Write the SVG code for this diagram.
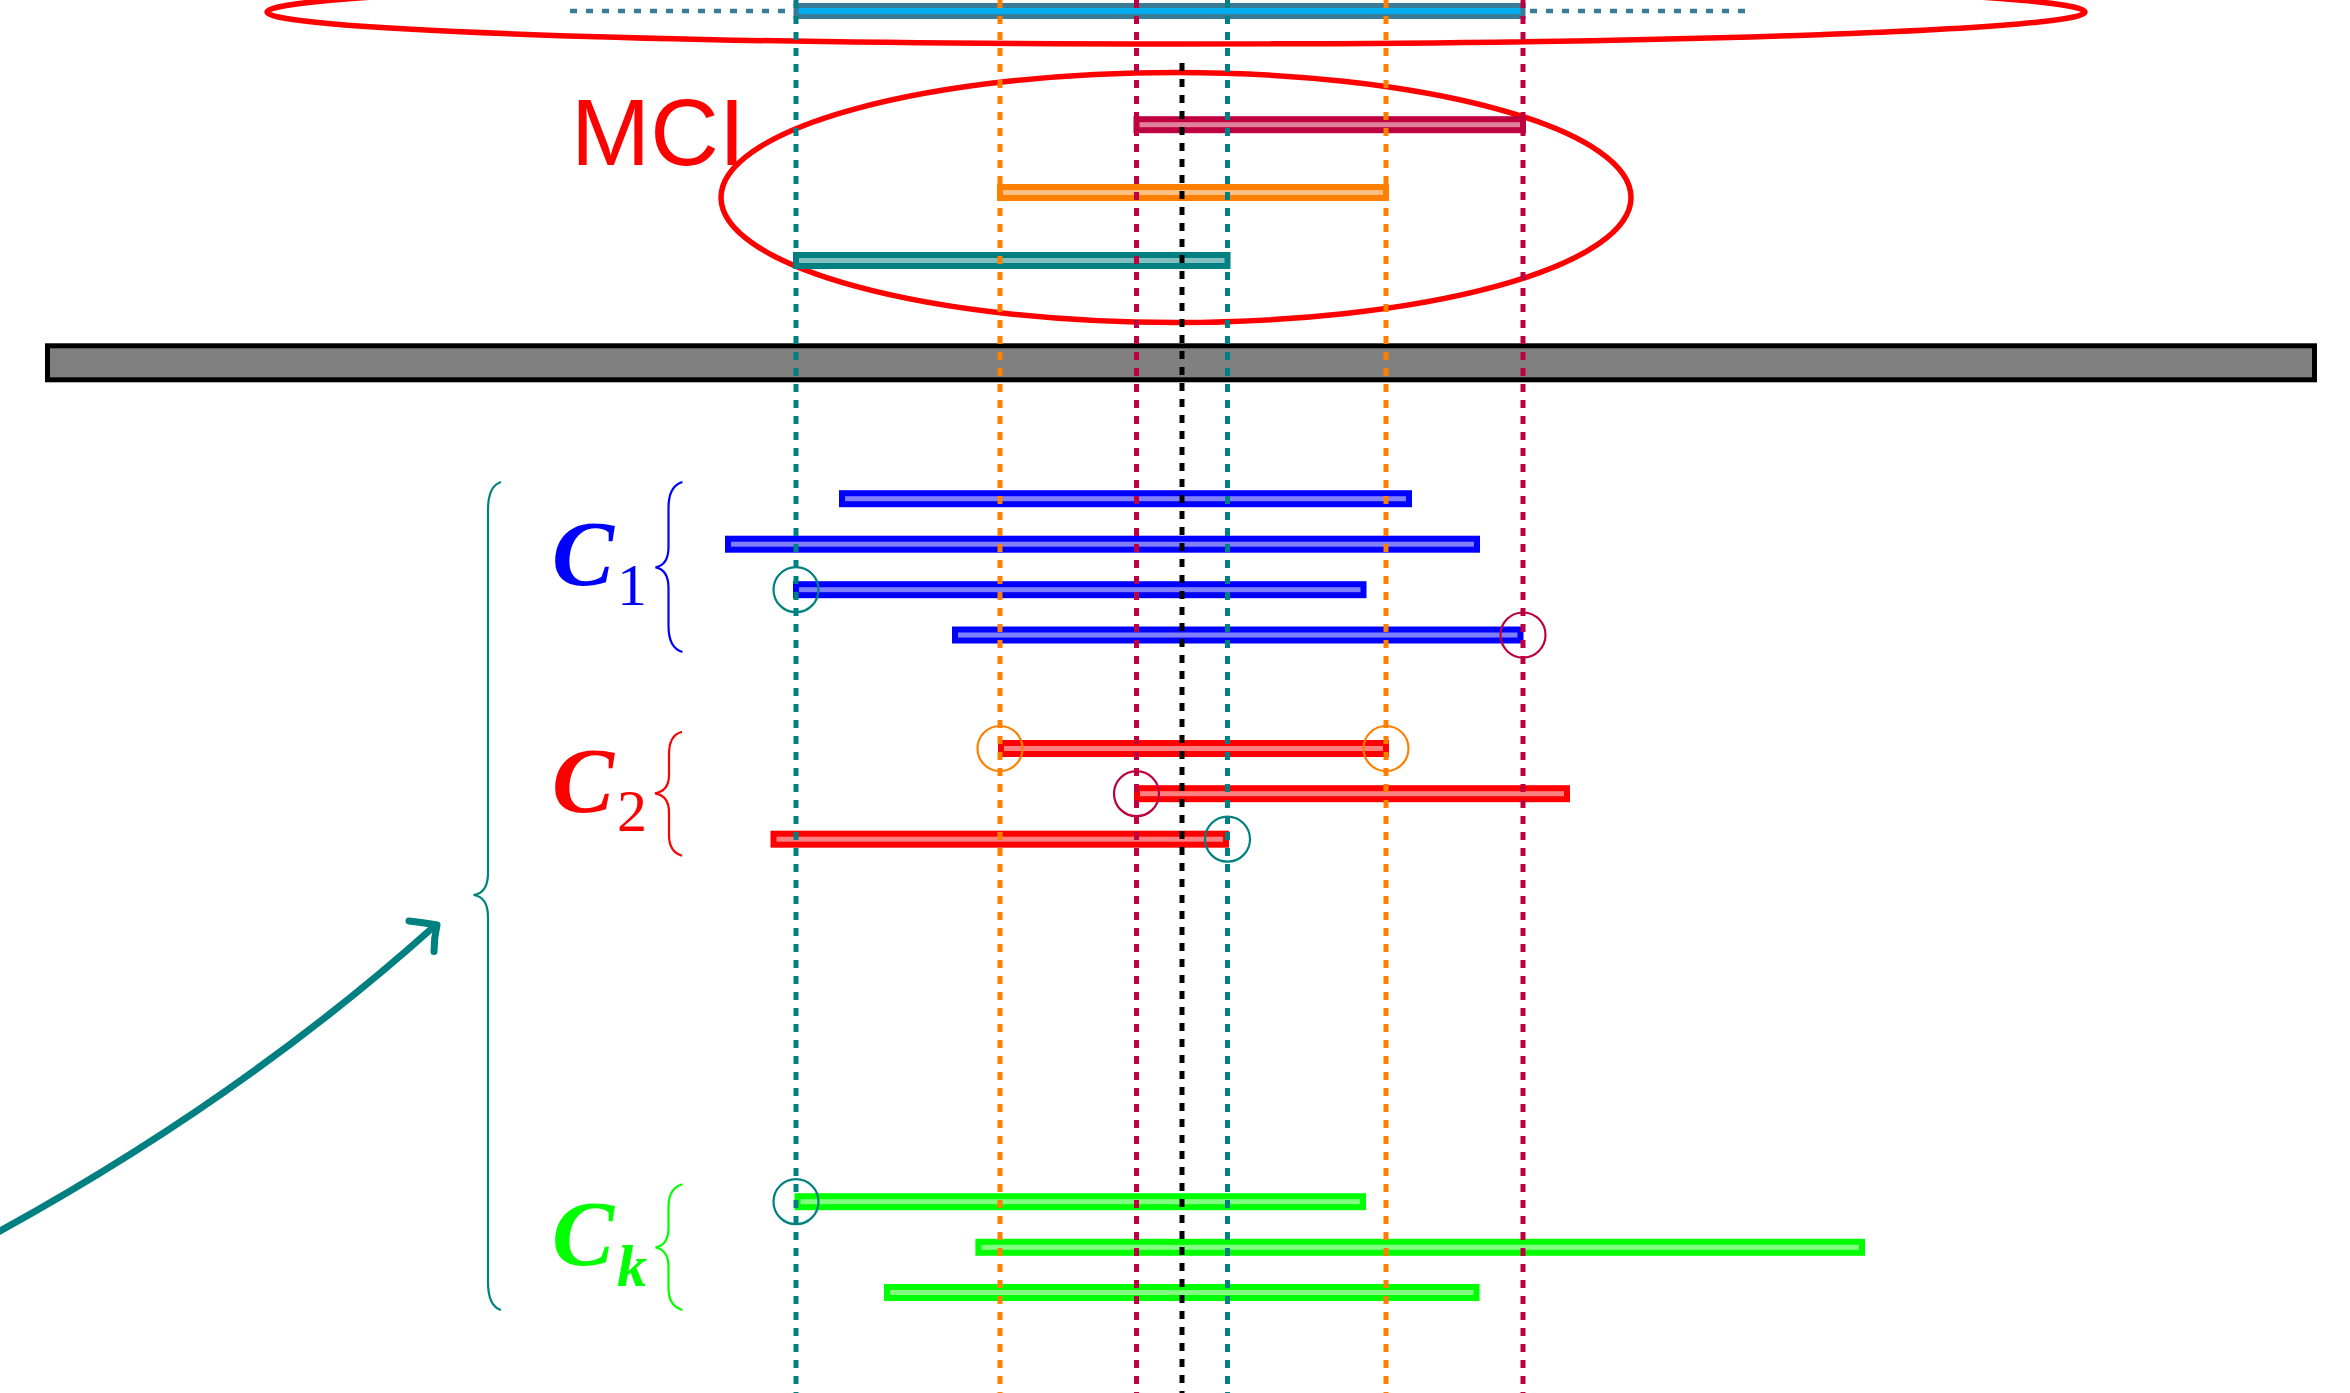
<svg xmlns="http://www.w3.org/2000/svg" width="2350" height="1393" viewBox="0 0 2350 1393">
<style>
.vl{fill:none;stroke-width:5;stroke-dasharray:8 8}
.bar{stroke-width:6}
.circ{fill:none;stroke-width:2.2}
.brace{fill:none;stroke-width:2.2}
.ell{fill:none;stroke:#ff0000;stroke-width:5.5}
.lbl{font-family:"Liberation Serif",serif;font-weight:bold;font-style:italic;font-size:93px}
.sub{font-family:"Liberation Serif",serif;font-size:60px}
.subk{font-family:"Liberation Serif",serif;font-weight:bold;font-style:italic;font-size:60px}
</style>
<rect width="2350" height="1393" fill="#ffffff"/>
<g id="top-group">
  <ellipse class="ell" cx="1176" cy="12" rx="909" ry="32"/>
  <line x1="570" y1="11" x2="1748" y2="11" stroke="#3a7c98" stroke-width="4.5" stroke-dasharray="7 9"/>
  <rect x="796" y="5.5" width="727" height="11" fill="#00aeef" stroke="#3a7c98" stroke-width="5"/>
</g>
<g id="mci">
  <ellipse class="ell" cx="1176" cy="197.5" rx="455" ry="125"/>
  <text x="571" y="165" font-family="'Liberation Sans',Arial,sans-serif" font-size="95" fill="#ff0000">MCI</text>
  <rect class="bar" x="1136.5" y="119.2" width="386.5" height="11" fill="#df809f" stroke="#bf0040"/>
  <rect class="bar" x="1000" y="187" width="386" height="11" fill="#ffbf80" stroke="#ff8000"/>
  <rect class="bar" x="796" y="255" width="431.5" height="11" fill="#80c0c0" stroke="#008080"/>
</g>
<g id="gray-bar">
  <rect x="47.5" y="345.8" width="2267" height="34" fill="#808080" stroke="#000000" stroke-width="5"/>
</g>
<g id="c1">
  <rect class="bar" x="842" y="493.2" width="567" height="11" fill="#8080ff" stroke="#0000ff"/>
  <rect class="bar" x="728" y="538.7" width="749" height="11" fill="#8080ff" stroke="#0000ff"/>
  <rect class="bar" x="796" y="584.2" width="567.5" height="11" fill="#8080ff" stroke="#0000ff"/>
  <rect class="bar" x="955" y="629.5" width="565.5" height="11" fill="#8080ff" stroke="#0000ff"/>
</g>
<g id="c2">
  <rect class="bar" x="1001" y="743" width="385" height="11" fill="#ff8080" stroke="#ff0000"/>
  <rect class="bar" x="1137" y="788.2" width="430" height="11" fill="#ff8080" stroke="#ff0000"/>
  <rect class="bar" x="773.5" y="833.7" width="452.5" height="11" fill="#ff8080" stroke="#ff0000"/>
</g>
<g id="ck">
  <rect class="bar" x="797.5" y="1196.2" width="565.5" height="11" fill="#80ff80" stroke="#00ff00"/>
  <rect class="bar" x="978.4" y="1241.8" width="883.6" height="11" fill="#80ff80" stroke="#00ff00"/>
  <rect class="bar" x="887" y="1287" width="589.5" height="11" fill="#80ff80" stroke="#00ff00"/>
</g>
<g id="verticals">
  <line class="vl" x1="796" y1="0" x2="796" y2="1393" stroke="#008080"/>
  <line class="vl" x1="1000" y1="0" x2="1000" y2="1393" stroke="#ff8000"/>
  <line class="vl" x1="1136.5" y1="0" x2="1136.5" y2="1393" stroke="#bf0040"/>
  <line class="vl" x1="1182" y1="63" x2="1182" y2="1393" stroke="#000000"/>
  <line class="vl" x1="1227.5" y1="0" x2="1227.5" y2="1393" stroke="#008080"/>
  <line class="vl" x1="1386" y1="0" x2="1386" y2="1393" stroke="#ff8000"/>
  <line class="vl" x1="1523" y1="0" x2="1523" y2="1393" stroke="#bf0040"/>
</g>
<g id="markers">
  <circle class="circ" cx="796" cy="589.7" r="22.5" stroke="#008080"/>
  <circle class="circ" cx="1523" cy="635" r="22.5" stroke="#bf0040"/>
  <circle class="circ" cx="1000" cy="748.5" r="22.5" stroke="#ff8000"/>
  <circle class="circ" cx="1386" cy="748.5" r="22.5" stroke="#ff8000"/>
  <circle class="circ" cx="1136.5" cy="793.7" r="22.5" stroke="#bf0040"/>
  <circle class="circ" cx="1227.5" cy="839.2" r="22.5" stroke="#008080"/>
  <circle class="circ" cx="796" cy="1201.7" r="22.5" stroke="#008080"/>
</g>
<g id="braces">
  <path class="brace" stroke="#008080" d="M501,482 Q488,486 488,510 L488,873 Q488,893 473.5,895 Q488,897 488,917 L488,1282 Q488,1306 501,1310"/>
  <path class="brace" stroke="#0000ff" d="M682.5,482 Q668.5,486 668.5,508 L668.5,547 Q668.5,565 655.5,567.3 Q668.5,569.6 668.5,588 L668.5,626 Q668.5,648 682.5,652"/>
  <path class="brace" stroke="#ff0000" d="M682,731.7 Q669,735 669,754 L669,775 Q669,791 655,793.3 Q669,795.6 669,812 L669,835 Q669,852 682,855.7"/>
  <path class="brace" stroke="#00ff00" d="M682.5,1184.3 Q668.5,1188 668.5,1207 L668.5,1228 Q668.5,1245 655.5,1247.5 Q668.5,1250 668.5,1267 L668.5,1288 Q668.5,1306 682.5,1310"/>
</g>
<g id="labels">
  <text x="552" y="585" fill="#0000ff"><tspan class="lbl">C</tspan><tspan class="sub" x="632" y="605" text-anchor="middle">1</tspan></text>
  <text x="552" y="812" fill="#ff0000"><tspan class="lbl">C</tspan><tspan class="sub" x="632" y="831" text-anchor="middle">2</tspan></text>
  <text x="552" y="1265" fill="#00ff00"><tspan class="lbl">C</tspan><tspan class="subk" x="632" y="1286" text-anchor="middle">k</tspan></text>
</g>
<g id="connectors">
  <path d="M-8.8,1235.8 Q240,1100 434,926.5" fill="none" stroke="#008080" stroke-width="7"/>
  <path d="M409,921 Q426,923 437,925 Q434,938 434,951.5" fill="none" stroke="#008080" stroke-width="7" stroke-linecap="round" stroke-linejoin="round"/>
</g>
</svg>
